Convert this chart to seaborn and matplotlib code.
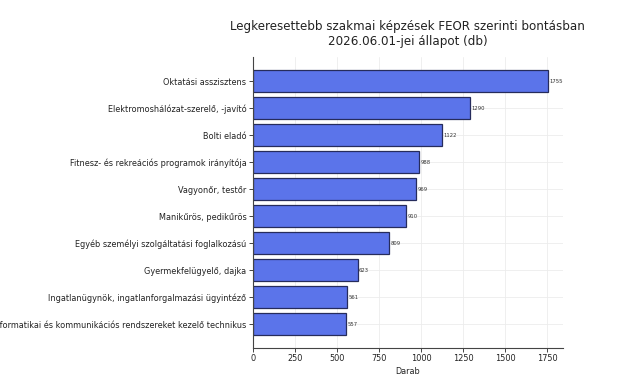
import seaborn as sns
import matplotlib.pyplot as plt
import pandas as pd

sns.set_style('whitegrid')
plt.rcParams['font.family'] = ['DejaVu Sans']

# Data
categories = [
    'Oktatási asszisztens',
    'Elektromoshálózat-szerelő, -javító',
    'Bolti eladó',
    'Fitnesz- és rekreációs programok irányítója',
    'Vagyonőr, testőr',
    'Manikűrös, pedikűrös',
    'Egyéb személyi szolgáltatási foglalkozású',
    'Gyermekfelügyelő, dajka',
    'Ingatlanügynök, ingatlanforgalmazási ügyintéző',
    'Informatikai és kommunikációs rendszereket kezelő technikus',
]
counts = [1755, 1290, 1122, 988, 969, 910, 809, 623, 561, 557]

df = pd.DataFrame({'FEOR': categories, 'Darab': counts})

fig = plt.figure(figsize=(6.27, 3.76), dpi=100)
ax = fig.add_axes([0.403, 0.074, 0.495, 0.774])

sns.barplot(data=df, x='Darab', y='FEOR', color='#5b74ea', saturation=1,
            edgecolor='#262c5c', linewidth=0.9, width=0.8, ax=ax)

for i, v in enumerate(counts):
    ax.text(v + 8, i, f'{v}', va='center', ha='left', fontsize=3.8, color='#333333')

n = len(categories)
ax.set_ylim(n - 1 + 0.89, -0.89)
ax.set_xlim(0, max(counts) * 1.05)

ax.set_title('Legkeresettebb szakmai képzések FEOR szerinti bontásban\n2026.06.01-jei állapot (db)',
             fontsize=8.6, color='#222222', pad=9)
ax.set_xlabel('Darab', fontsize=5.9, color='#222222', labelpad=2.5)
ax.set_ylabel('')
ax.tick_params(axis='both', labelsize=5.9, length=3, width=0.7, color='#444444',
               left=True, bottom=True, pad=1.5, labelcolor='#222222')
ax.grid(True, color='#ececec', linewidth=0.6)
ax.set_axisbelow(True)
sns.despine(ax=ax)
for s in ['left', 'bottom']:
    ax.spines[s].set_color('#444444')
    ax.spines[s].set_linewidth(0.8)

fig.savefig('out.png', dpi=100)
